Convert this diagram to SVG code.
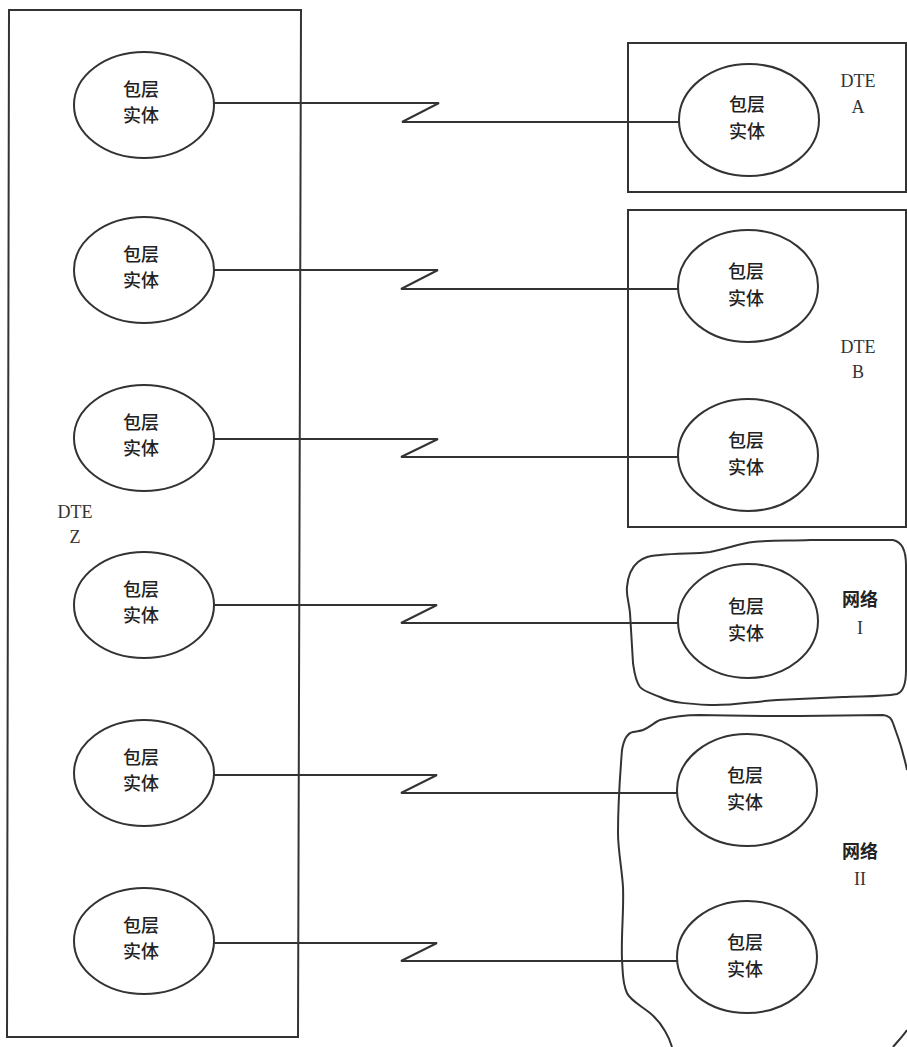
<svg xmlns="http://www.w3.org/2000/svg" width="907" height="1047" viewBox="0 0 907 1047">
  <style>
    .frame { fill: none; stroke: #333; stroke-width: 2; }
    .ent { fill: #fff; stroke: #333; stroke-width: 2; }
    .link { fill: none; stroke: #333; stroke-width: 2; stroke-linejoin: miter; }
    .cjk { font-family: "Noto Sans CJK SC", "Noto Sans", sans-serif; font-size: 18px; font-weight: 500; fill: #222; text-anchor: middle; }
    .net { font-weight: 700; }
    .lat { font-family: "Liberation Serif", serif; font-size: 18px; fill: #333; text-anchor: middle; }
  </style>

  <rect x="0" y="0" width="907" height="1047" fill="#fff"/>

  <!-- Station Z frame -->
  <g id="dte-z">
    <path class="frame" d="M9,10 L301,10 L298,1037 L7,1037 Z"/>
    <text class="lat" x="75" y="518">DTE</text>
    <text class="lat" x="75" y="543">Z</text>
  </g>

  <!-- Station A frame -->
  <g id="dte-a">
    <rect class="frame" x="628" y="43" width="278" height="149"/>
    <text class="lat" x="858" y="87">DTE</text>
    <text class="lat" x="858" y="113">A</text>
  </g>

  <!-- Station B frame -->
  <g id="dte-b">
    <rect class="frame" x="628" y="210" width="278" height="317"/>
    <text class="lat" x="858" y="353">DTE</text>
    <text class="lat" x="858" y="378">B</text>
  </g>

  <!-- Network I outline -->
  <g id="net-1">
    <path class="frame" d="M638,562 C645,556 652,556 660,555 C680,553 695,554 710,552 C728,549 740,543 753,542 C775,540 790,541 810,540 L893,540 C903,542 906,552 906,565 L906,670 C906,685 903,692 897,694 C880,697 860,696 843,697 C820,698 800,699 777,700 C750,702 730,706 710,705 C690,704 672,703 660,697 C650,693 643,691 640,687 C635,680 634,670 633,663 C632,645 631,630 630,613 C629,602 626,595 627,587 C628,575 632,567 638,562 Z"/>
    <text class="cjk net" x="860" y="606">网络</text>
    <text class="lat" x="860" y="634">I</text>
  </g>

  <!-- Network II outline -->
  <g id="net-2">
    <path class="frame" d="M672,1047 C670,1040 668,1036 665,1031 C660,1022 656,1018 650,1013 C640,1005 630,1000 627,993 C622,982 623,972 622,960 C621,935 624,910 623,887 C622,870 618,850 618,833 C618,805 620,775 622,750 C624,738 628,733 633,732 C638,731 640,731 643,730 C650,727 655,722 660,720 C675,716 688,715 700,715 C735,716 765,716 800,716 L883,715 C890,716 892,719 893,723 C896,732 900,742 902,750 C904,758 906,764 907,770"/>
    <path class="frame" d="M907,1030 C903,1036 898,1041 893,1047"/>
    <text class="cjk net" x="860" y="858">网络</text>
    <text class="lat" x="860" y="885">II</text>
  </g>

  <!-- Links: each runs from a Z entity to its peer, with a break symbol -->
  <g id="links">
    <polyline class="link" points="214,103 439,103 402,122 679,122"/>
    <polyline class="link" points="214,270 438,270 401,289 678,289"/>
    <polyline class="link" points="214,439 438,439 401,457 678,457"/>
    <polyline class="link" points="214,605 437,605 401,623 678,623"/>
    <polyline class="link" points="214,775 437,775 401,793 678,793"/>
    <polyline class="link" points="214,943 437,943 401,961 678,961"/>
  </g>

  <!-- Packet-layer entities at station Z -->
  <g id="z1"><ellipse class="ent" cx="144" cy="105" rx="70" ry="53"/><text class="cjk" x="141" y="96">包层</text><text class="cjk" x="141" y="122">实体</text></g>
  <g id="z2"><ellipse class="ent" cx="144" cy="270" rx="70" ry="53"/><text class="cjk" x="141" y="261">包层</text><text class="cjk" x="141" y="287">实体</text></g>
  <g id="z3"><ellipse class="ent" cx="144" cy="438" rx="70" ry="53"/><text class="cjk" x="141" y="429">包层</text><text class="cjk" x="141" y="455">实体</text></g>
  <g id="z4"><ellipse class="ent" cx="144" cy="605" rx="70" ry="53"/><text class="cjk" x="141" y="596">包层</text><text class="cjk" x="141" y="622">实体</text></g>
  <g id="z5"><ellipse class="ent" cx="144" cy="773" rx="70" ry="53"/><text class="cjk" x="141" y="764">包层</text><text class="cjk" x="141" y="790">实体</text></g>
  <g id="z6"><ellipse class="ent" cx="144" cy="941" rx="70" ry="53"/><text class="cjk" x="141" y="932">包层</text><text class="cjk" x="141" y="958">实体</text></g>

  <!-- Peer entities -->
  <g id="a1"><ellipse class="ent" cx="749" cy="120" rx="70" ry="56"/><text class="cjk" x="747" y="111">包层</text><text class="cjk" x="747" y="138">实体</text></g>
  <g id="b1"><ellipse class="ent" cx="748" cy="286" rx="70" ry="56"/><text class="cjk" x="746" y="278">包层</text><text class="cjk" x="746" y="305">实体</text></g>
  <g id="b2"><ellipse class="ent" cx="748" cy="455" rx="70" ry="56"/><text class="cjk" x="746" y="447">包层</text><text class="cjk" x="746" y="474">实体</text></g>
  <g id="n1"><ellipse class="ent" cx="748" cy="621" rx="70" ry="57"/><text class="cjk" x="746" y="613">包层</text><text class="cjk" x="746" y="640">实体</text></g>
  <g id="n2"><ellipse class="ent" cx="747" cy="790" rx="70" ry="56"/><text class="cjk" x="745" y="782">包层</text><text class="cjk" x="745" y="809">实体</text></g>
  <g id="n3"><ellipse class="ent" cx="747" cy="957" rx="70" ry="56"/><text class="cjk" x="745" y="949">包层</text><text class="cjk" x="745" y="976">实体</text></g>
</svg>
